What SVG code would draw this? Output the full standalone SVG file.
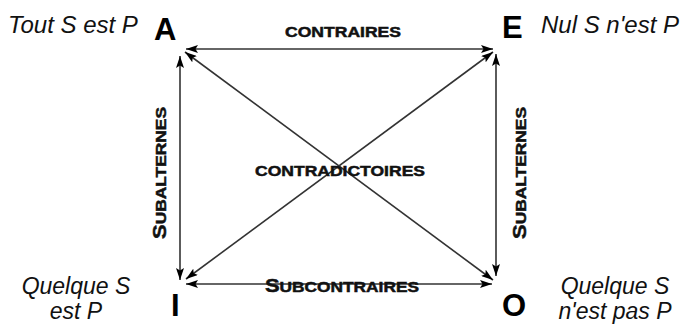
<svg xmlns="http://www.w3.org/2000/svg" width="685" height="330" viewBox="0 0 685 330">
<defs>
<marker id="ah" viewBox="0 0 12 8" refX="12" refY="4" markerWidth="12" markerHeight="8" markerUnits="userSpaceOnUse" orient="auto-start-reverse">
<path d="M0,0 L12,4 L0,8 L2.5,4 Z" fill="#000"/>
</marker>
<style>
.ln{stroke:#333;stroke-width:1.6;fill:none;marker-start:url(#ah);marker-end:url(#ah)}
.prop{font-family:"Liberation Sans",Arial,sans-serif;font-style:italic;font-size:24px;fill:#111}
.prop2{font-family:"Liberation Sans",Arial,sans-serif;font-style:italic;font-size:23px;fill:#111}
.big{font-family:"Liberation Sans",Arial,sans-serif;font-weight:bold;font-size:31px;fill:#000}
.lab{font-family:"Liberation Sans",Arial,sans-serif;font-weight:bold;font-size:15px;fill:#111;stroke:#111;stroke-width:0.5}
.cap{font-size:19px}
</style>
</defs>
<rect width="685" height="330" fill="#fff"/>
<g id="connectors">
<line class="ln" x1="186" y1="49" x2="493" y2="49"/>
<line class="ln" x1="186" y1="284" x2="492" y2="284"/>
<line class="ln" x1="180" y1="56" x2="180" y2="280"/>
<line class="ln" x1="496" y1="54" x2="496" y2="276"/>
<line class="ln" x1="185" y1="52" x2="493" y2="280"/>
<line class="ln" x1="493" y1="52" x2="186" y2="279"/>
</g>
<g id="node-A">
<text class="big" x="154" y="40">A</text>
<text class="prop" x="8" y="33">Tout S est P</text>
</g>
<g id="node-E">
<text class="big" x="502" y="38">E</text>
<text class="prop" x="541" y="33">Nul S n'est P</text>
</g>
<g id="node-I">
<text class="big" x="171" y="316">I</text>
<text class="prop2" x="76" y="294" text-anchor="middle">Quelque S</text>
<text class="prop2" x="76" y="319" text-anchor="middle">est P</text>
</g>
<g id="node-O">
<text class="big" x="502" y="316">O</text>
<text class="prop2" x="615" y="294" text-anchor="middle">Quelque S</text>
<text class="prop2" x="615" y="319" text-anchor="middle">n'est pas P</text>
</g>
<g id="labels">
<text class="lab" x="343" y="37" text-anchor="middle" textLength="116" lengthAdjust="spacingAndGlyphs">CONTRAIRES</text>
<text class="lab" x="340" y="176" text-anchor="middle" textLength="170" lengthAdjust="spacingAndGlyphs">CONTRADICTOIRES</text>
<text class="lab" x="342" y="292" text-anchor="middle" textLength="154" lengthAdjust="spacingAndGlyphs"><tspan class="cap">S</tspan>UBCONTRAIRES</text>
<text class="lab" transform="translate(166,173) rotate(-90)" text-anchor="middle" textLength="132" lengthAdjust="spacingAndGlyphs"><tspan class="cap">S</tspan>UBALTERNES</text>
<text class="lab" transform="translate(526,173) rotate(-90)" text-anchor="middle" textLength="132" lengthAdjust="spacingAndGlyphs"><tspan class="cap">S</tspan>UBALTERNES</text>
</g>
</svg>
